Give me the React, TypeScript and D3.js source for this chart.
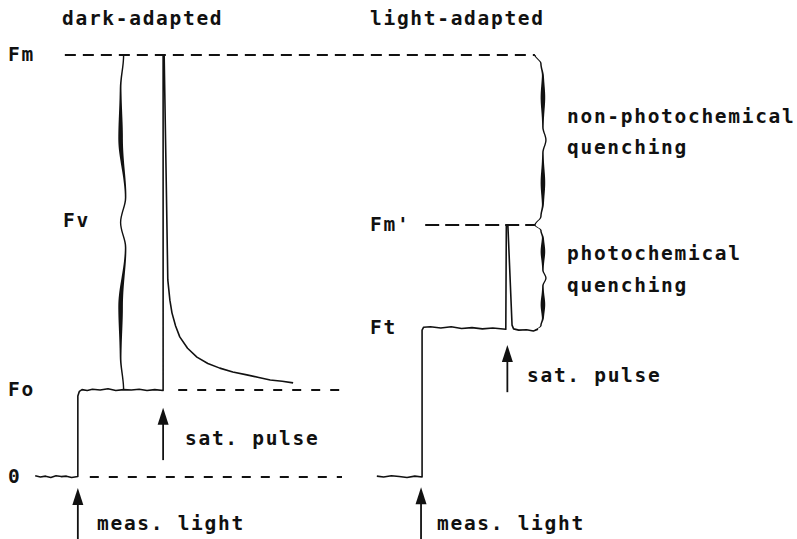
import React from "react";
import * as d3 from "d3";

// ---- data (time in arbitrary units, fluorescence in % of Fm) ----
const levelNames = ["0", "Fo", "Fm"];
const levelValues = [0, 20.6, 100];
const lightLevelNames = ["Fm'", "Ft"];
const lightLevelValues = [59.7, 35.3];

const darkTrace: [number, number][] = [
  [1.0, 0.3], [2.0, 0.0], [3.0, 0.2], [4.0, -0.1], [5.0, 0.3], [6.0, 0.1], [7.0, 0.2], [8.0, -0.1], [9.2, 0.1],
  [9.2, 19.2], [9.5, 20.3], [10.0, 20.7], [11.0, 20.5], [12.0, 20.8], [13.5, 20.6], [15.0, 20.9], [16.5, 20.5],
  [18.0, 20.7], [19.5, 20.6], [21.0, 20.8], [22.5, 20.5], [24.0, 20.7], [25.6, 20.5],
  [25.6, 100], [25.8, 100], [26.2, 70], [26.5, 46.7], [26.9, 41.9], [27.3, 38.9], [28.0, 35.8], [28.8, 33.2],
  [30.3, 30.5], [32.1, 28.4], [34.2, 26.9], [36.5, 25.8], [39.0, 24.9], [41.7, 24.2], [44.0, 23.6],
  [46.2, 23.0], [48.5, 22.7], [50.6, 22.3],
];

const lightTrace: [number, number][] = [
  [66.7, 0.2], [68.0, 0.0], [69.5, 0.3], [71.0, 0.1], [72.5, -0.1], [74.0, 0.2], [75.4, 0.0],
  [75.4, 34.8], [75.7, 35.5], [77.0, 35.6], [79.0, 35.3], [81.0, 35.6], [83.0, 35.2], [85.0, 35.4],
  [87.0, 35.1], [89.0, 35.3], [91.5, 35.0],
  [91.6, 59.7], [91.9, 59.7], [92.7, 36.0], [93.0, 35.1], [94.0, 34.8], [95.5, 34.9], [96.8, 34.6], [97.7, 35.0],
];

// dashed reference lines: [tStart, tEnd, level]
const refLines: [number, number, number][] = [
  [6.7, 97.1, 100],
  [28.5, 60.0, 20.6],
  [11.5, 60.0, 0],
  [76.0, 97.1, 59.7],
];
const refDash = ["11 7", "9 10", "9 10", "14 6"];

// braces: [t, Fbottom, Ftop]
const braces: [number, number, number][] = [
  [18.0, 20.6, 100],
  [97.1, 59.7, 100],
  [97.1, 34.6, 59.7],
];

// arrows: [t, Ftip, Fend]
const arrows: [number, number, number][] = [
  [9.2, -2.6, -15],
  [25.6, 16.4, 4.0],
  [91.8, 31.3, 20.1],
  [75.2, -2.4, -15],
];
const arrowLabels = ["meas. light", "sat. pulse", "sat. pulse", "meas. light"];

const headers = ["dark-adapted", "light-adapted"];
const braceLabels = [["non-photochemical", "quenching"], ["photochemical", "quenching"]];

// ---- layout ----
const W = 797, H = 539;
const x = d3.scaleLinear().domain([0, 100]).range([30, 550]);
const y = d3.scaleLinear().domain([0, 100]).range([477, 55]);

const FONT = {
  fontFamily: "'DejaVu Sans Mono', monospace",
  fontWeight: 700,
  fontSize: 19.5,
  letterSpacing: 1.7,
  fill: "#111",
} as const;

type KF = [number, number][];
const leftBraceKF: KF = [[0, 0], [0.2, -3], [0.5, -3], [0.85, 2], [1, -3]];
const rightBraceKF: KF = [[0, 0], [0.1, 6], [0.25, 8], [0.85, 8], [1, 11]];

function kfOffset(kf: KF, u: number) {
  for (let i = 1; i < kf.length; i++) {
    if (u <= kf[i][0]) {
      const [u0, o0] = kf[i - 1];
      const [u1, o1] = kf[i];
      let s = (u - u0) / (u1 - u0);
      s = s * s * (3 - 2 * s);
      return o0 + (o1 - o0) * s;
    }
  }
  return kf[kf.length - 1][1];
}

function bracePath(xc: number, yTop: number, yBot: number, kf: KF) {
  const yMid = (yTop + yBot) / 2;
  const N = 60;
  const center: [number, number, number][] = [];
  for (let i = 0; i <= N; i++) {
    const u = i / N;
    const h = 0.7 + 1.6 * Math.exp(-(((u - 0.5) / 0.2) ** 2));
    center.push([xc + kfOffset(kf, u), yTop + (yMid - yTop) * u, h]);
  }
  for (let i = N - 1; i >= 0; i--) {
    const u = i / N;
    const h = 0.7 + 1.6 * Math.exp(-(((u - 0.5) / 0.2) ** 2));
    center.push([xc + kfOffset(kf, u), yBot + (yMid - yBot) * u, h]);
  }
  const left = center.map(([cx, cy, h]) => [cx - h, cy] as [number, number]);
  const right = center.map(([cx, cy, h]) => [cx + h, cy] as [number, number]).reverse();
  return d3.line()([...left, ...right]) + "Z";
}

export default function App() {
  const line = d3.line<[number, number]>().x((d) => x(d[0])).y((d) => y(d[1]));

  return (
    <svg
      width={W}
      height={H}
      viewBox={`0 0 ${W} ${H}`}
      style={{ position: "absolute", left: 0, top: 0, background: "#fff", display: "block" }}
    >
      <rect width={W} height={H} fill="#fff" />

      {/* headers */}
      <text x={62} y={25} {...FONT}>{headers[0]}</text>
      <text x={370} y={25} {...FONT}>{headers[1]}</text>

      {/* dashed reference lines */}
      {refLines.map(([t0, t1, v], i) => (
        <line key={"r" + i} x1={x(t0)} x2={x(t1)} y1={y(v)} y2={y(v)}
          stroke="#111" strokeWidth={2} strokeDasharray={refDash[i]} />
      ))}

      {/* traces */}
      <path d={line(darkTrace) || ""} fill="none" stroke="#111" strokeWidth={1.6} strokeLinejoin="round" />
      <path d={line(lightTrace) || ""} fill="none" stroke="#111" strokeWidth={1.6} strokeLinejoin="round" />

      {/* braces */}
      {braces.map(([t, f0, f1], i) => (
        <path key={"b" + i} d={bracePath(x(t), y(f1), y(f0), i === 0 ? leftBraceKF : rightBraceKF)} fill="#111" />
      ))}

      {/* arrows */}
      {arrows.map(([t, ftip, fend], i) => {
        const ax = x(t), yt = y(ftip), ye = y(fend);
        return (
          <g key={"a" + i}>
            <line x1={ax} x2={ax} y1={yt + 10} y2={ye} stroke="#111" strokeWidth={1.8} />
            <path d={`M${ax},${yt} L${ax - 5.5},${yt + 17} L${ax + 5.5},${yt + 17} Z`} fill="#111" />
          </g>
        );
      })}
      <text x={97} y={530} {...FONT}>{arrowLabels[0]}</text>
      <text x={185} y={445} {...FONT}>{arrowLabels[1]}</text>
      <text x={527} y={382} {...FONT}>{arrowLabels[2]}</text>
      <text x={437} y={530} {...FONT}>{arrowLabels[3]}</text>

      {/* level labels */}
      {levelNames.map((n, i) => (
        <text key={"l" + i} x={8} y={y(levelValues[i]) + 6} {...FONT}>{n}</text>
      ))}
      {lightLevelNames.map((n, i) => (
        <text key={"ll" + i} x={370} y={y(lightLevelValues[i]) + 6} {...FONT}>{n}</text>
      ))}
      <text x={63} y={227} {...FONT}>Fv</text>

      {/* brace labels */}
      <text x={567} y={123} {...FONT}>{braceLabels[0][0]}</text>
      <text x={567} y={154} {...FONT}>{braceLabels[0][1]}</text>
      <text x={567} y={260} {...FONT}>{braceLabels[1][0]}</text>
      <text x={567} y={292} {...FONT}>{braceLabels[1][1]}</text>
    </svg>
  );
}
